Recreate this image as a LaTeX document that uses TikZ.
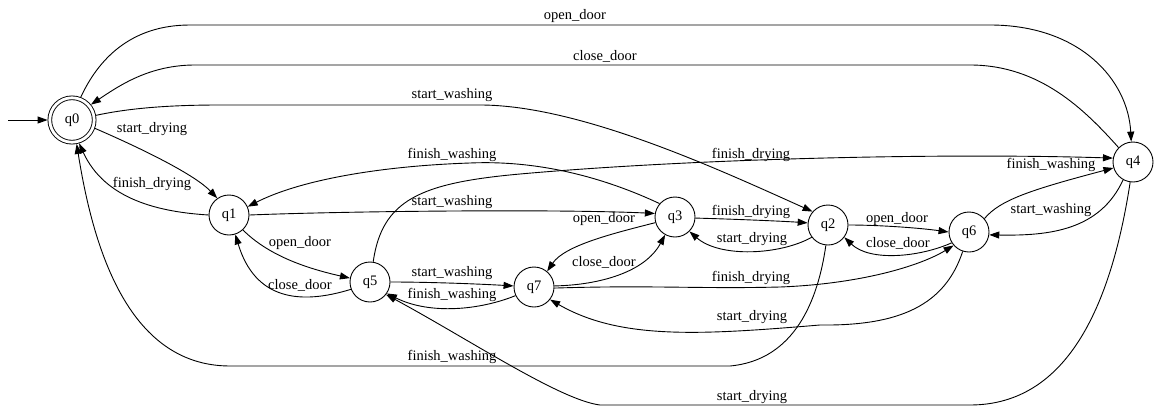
\documentclass[tikz,border=0pt]{standalone}
\usepackage{fontspec}
\setmainfont{Liberation Serif}
\usetikzlibrary{arrows.meta}
\begin{document}
\begin{tikzpicture}[x=1pt,y=-1pt,
  every node/.style={font=\fontsize{14.5}{17}\selectfont},
  stnode/.style={circle,draw,line width=0.9pt,minimum size=40pt,inner sep=0pt},
  accnode/.style={circle,draw,line width=0.9pt,double,double distance=2.8pt,
                  minimum size=44.4pt,inner sep=0pt,outer sep=2.2pt},
  edge/.style={draw,line width=0.9pt,-{Triangle[length=10pt,width=7pt]}},
  lbl/.style={inner sep=0pt}]
\useasboundingbox (0,0) rectangle (1154,407);

% states
\node[accnode] (q0) at (72,120) {q0};
\node[stnode] (q1) at (229,215) {q1};
\node[stnode] (q2) at (828,225) {q2};
\node[stnode] (q3) at (675,217) {q3};
\node[stnode] (q4) at (1133,162) {q4};
\node[stnode] (q5) at (370,282) {q5};
\node[stnode] (q6) at (969,232) {q6};
\node[stnode] (q7) at (534,287) {q7};
\coordinate (init) at (8,120);

% initial arrow
\draw[edge] (init) -- (q0.west);

% q0 transitions
\draw[edge] (q0.69) .. controls (98,60) and (130,25) .. (190,25) -- (990,25)
  .. controls (1080,25) and (1128,80) .. (q4.95);
\draw[edge] (q0.11) .. controls (130,108) and (170,105) .. (220,105) -- (480,105)
  .. controls (580,105) and (720,170) .. (q2.139);
\draw[edge] (q0.-20) .. controls (145,150) and (195,175) .. (q1.125);

% q1 transitions
\draw[edge] (q1.180) .. controls (160,212) and (105,200) .. (q0.-73);
\draw[edge] (q1.0) .. controls (350,211) and (560,209) .. (q3.170);
\draw[edge] (q1.-47) .. controls (268,255) and (305,268) .. (q5.169);

% q2 transitions
\draw[edge] (q2.217) .. controls (780,255) and (720,258) .. (q3.-45);
\draw[edge] (q2.0) .. controls (880,225) and (920,228) .. (q6.180);
\draw[edge] (q2.-96) .. controls (818,300) and (795,360) .. (730,366) -- (230,366)
  .. controls (125,366) and (92,240) .. (q0.-79);

% q3 transitions
\draw[edge] (q3.139) .. controls (605,178) and (540,160) .. (470,163)
  .. controls (380,166) and (300,180) .. (q1.24);
\draw[edge] (q3.-3) .. controls (730,219) and (780,221) .. (q2.174);
\draw[edge] (q3.196) .. controls (615,233) and (565,245) .. (q7.50);

% q4 transitions
\draw[edge] (q4.135) .. controls (1085,110) and (1040,65) .. (970,65) -- (195,65)
  .. controls (150,65) and (120,85) .. (q0.39);
\draw[edge] (q4.241) .. controls (1100,230) and (1050,236) .. (q6.-8);
\draw[edge] (q4.-98) .. controls (1112,300) and (1070,405) .. (970,405) -- (600,405)
  .. controls (560,400) and (470,340) .. (q5.-38);

% q5 transitions
\draw[edge] (q5.81) .. controls (382,200) and (420,183) .. (520,174)
  .. controls (700,158) and (950,153) .. (q4.169);
\draw[edge] (q5.201) .. controls (300,305) and (255,300) .. (q1.-72);
\draw[edge] (q5.0) .. controls (430,282) and (480,284) .. (q7.177);

% q6 transitions
\draw[edge] (q6.212) .. controls (920,257) and (870,262) .. (q2.-37);
\draw[edge] (q6.41) .. controls (1000,200) and (1030,190) .. (q4.197);
\draw[edge] (q6.-108) .. controls (945,305) and (900,326) .. (820,325)
  .. controls (700,335) and (620,340) .. (q7.-38);

% q7 transitions
\draw[edge] (q7.205) .. controls (480,310) and (430,315) .. (q5.-34);
\draw[edge] (q7.3) .. controls (600,285) and (645,272) .. (q3.-119);
\draw[edge] (q7.-3) .. controls (650,285) and (700,289) .. (780,287)
  .. controls (860,284) and (920,266) .. (q6.221);

% transition labels
\node[lbl] (l01) at (575,16) {open\_door};
\node[lbl] (l02) at (605,56) {close\_door};
\node[lbl] (l03) at (452,95) {start\_washing};
\node[lbl] (l04) at (152,129) {start\_drying};
\node[lbl] (l05) at (152,184) {finish\_drying};
\node[lbl] (l06) at (452,155) {finish\_washing};
\node[lbl] (l07) at (751,155) {finish\_drying};
\node[lbl] (l08) at (452,202) {start\_washing};
\node[lbl] (l09) at (300,243) {open\_door};
\node[lbl] (l10) at (300,285) {close\_door};
\node[lbl] (l11) at (452,273) {start\_washing};
\node[lbl] (l12) at (452,295) {finish\_washing};
\node[lbl] (l13) at (604,219) {open\_door};
\node[lbl] (l14) at (604,262) {close\_door};
\node[lbl] (l15) at (751,212) {finish\_drying};
\node[lbl] (l16) at (752,239) {start\_drying};
\node[lbl] (l17) at (751,278) {finish\_drying};
\node[lbl] (l18) at (752,317) {start\_drying};
\node[lbl] (l19) at (452,357) {finish\_washing};
\node[lbl] (l20) at (752,397) {start\_drying};
\node[lbl] (l21) at (897,219) {open\_door};
\node[lbl] (l22) at (898,243) {close\_door};
\node[lbl] (l23) at (1051,165) {finish\_washing};
\node[lbl] (l24) at (1051,210) {start\_washing};
\end{tikzpicture}
\end{document}
